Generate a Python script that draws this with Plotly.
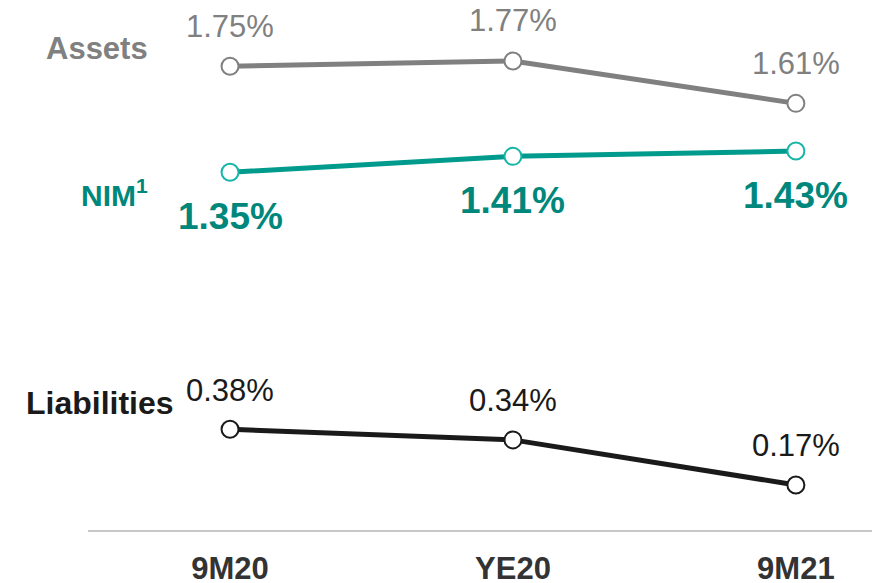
import plotly.graph_objects as go

categories = ["9M20", "YE20", "9M21"]
assets = [1.75, 1.77, 1.61]
nim = [1.35, 1.41, 1.43]
liabilities = [0.38, 0.34, 0.17]

FONT = "Liberation Sans, Arial, sans-serif"
GRAY = "#808080"
TEAL_LINE = "#009b8c"
TEAL_MARK = "#17b5a8"
TEAL_TEXT = "#00877c"
BLACK = "#1a1a1a"

fig = go.Figure()

series = [
    ("Assets", assets, GRAY, GRAY, GRAY, 40, False),
    ("NIM", nim, TEAL_LINE, TEAL_MARK, TEAL_TEXT, -44, True),
    ("Liabilities", liabilities, BLACK, BLACK, BLACK, 39, False),
]

for name, vals, lc, mc, tc, shift, bold in series:
    fig.add_trace(go.Scatter(
        x=categories, y=vals, mode="lines+markers", name=name,
        line=dict(color=lc, width=5),
        marker=dict(size=17, color="white", line=dict(color=mc, width=2)),
        cliponaxis=False, showlegend=False, hoverinfo="skip",
    ))
    for c, v in zip(categories, vals):
        txt = f"{v:.2f}%"
        fig.add_annotation(
            x=c, y=v, xref="x", yref="y", text=f"<b>{txt}</b>" if bold else txt,
            showarrow=False, yshift=shift, yanchor="middle",
            font=dict(family=FONT, size=37 if bold else 31, color=tc),
        )

labels = [
    ("<b>Assets</b>", 0.0121, 0.9085, GRAY, 31),
    ("<b>NIM<sup>1</sup></b>", 0.0338, 0.635, TEAL_TEXT, 30),
    ("<b>Liabilities</b>", 0.0147, 0.2387, BLACK, 32),
]
for t, x, y, c, s in labels:
    fig.add_annotation(x=x, y=y, xref="paper", yref="paper", text=t,
                       showarrow=False, xanchor="center", yanchor="middle",
                       font=dict(family=FONT, size=s, color=c))

fig.update_layout(
    width=872, height=583,
    margin=dict(l=88, r=0, t=0, b=53),
    paper_bgcolor="white", plot_bgcolor="white",
    font=dict(family=FONT),
    xaxis=dict(
        type="category", range=[-0.502, 2.269],
        showline=True, linecolor="#c8c8c8", linewidth=2,
        showgrid=False, zeroline=False, ticks="",
        tickfont=dict(family=FONT, size=31, color="#333333", weight="bold"),
        ticklabelstandoff=10, automargin=False,
    ),
    yaxis=dict(range=[0, 2.0], visible=False, showgrid=False, zeroline=False,
               automargin=False),
)

fig.write_html("out.html", config={"displayModeBar": False},
               post_script="document.body.style.margin='0';document.body.style.overflow='hidden';")
